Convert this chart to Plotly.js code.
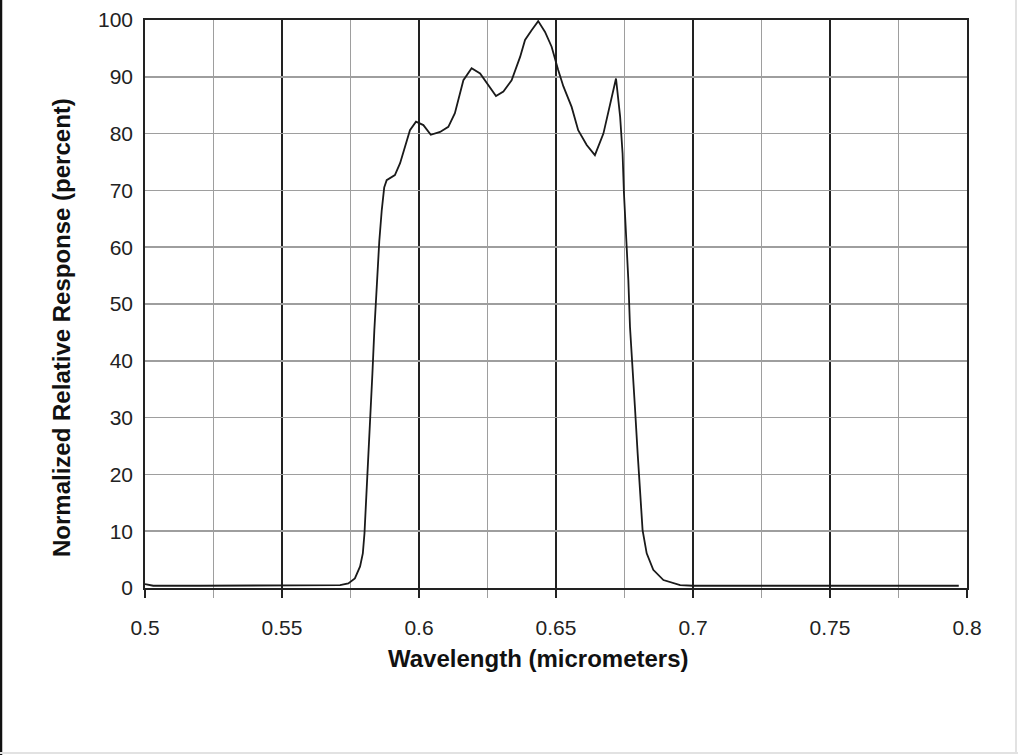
<!DOCTYPE html>
<html>
<head>
<meta charset="utf-8">
<script src="https://cdn.plot.ly/plotly-3.0.1.min.js"></script>
<style>
html,body{margin:0;padding:0;background:#fff;}
#chart{width:1018px;height:755px;}
</style>
</head>
<body>
<div id="chart"></div>
<script>
// Wavelength (micrometers)
var wavelength = [
  0.500, 0.503, 0.520, 0.540, 0.560, 0.5712, 0.5742, 0.5766, 0.5785, 0.5795,
  0.5801, 0.5807, 0.5816, 0.5824, 0.5830, 0.5837, 0.5846, 0.5855, 0.5864, 0.5873,
  0.5882, 0.5912, 0.5931, 0.5967, 0.5989, 0.6016, 0.6043, 0.6077, 0.6107, 0.6131,
  0.6162, 0.6192, 0.6223, 0.6253, 0.6281, 0.6308, 0.6338, 0.6369, 0.6387, 0.6411,
  0.6435, 0.6460, 0.6484, 0.6508, 0.6527, 0.6557, 0.6581, 0.6612, 0.6642, 0.6673,
  0.6697, 0.6719, 0.6734, 0.6743, 0.6748, 0.6758, 0.6764, 0.6770, 0.6780, 0.6788,
  0.6798, 0.6807, 0.6816, 0.6831, 0.6855, 0.6892, 0.6953, 0.700, 0.750, 0.797
];
// Normalized relative response (percent)
var response = [
  0.7, 0.4, 0.4, 0.4, 0.4, 0.5, 0.8, 1.7, 3.8, 6.1,
  9.6, 15.5, 22.0, 29.9, 37.8, 45.4, 53.3, 61.0, 66.5, 70.5,
  71.8, 72.7, 74.8, 80.6, 82.1, 81.5, 79.8, 80.3, 81.2, 83.6,
  89.4, 91.5, 90.6, 88.6, 86.6, 87.4, 89.4, 93.5, 96.5, 98.2,
  99.8, 97.9, 95.3, 91.2, 88.3, 84.7, 80.6, 78.0, 76.2, 80.0,
  85.3, 89.7, 83.0, 76.5, 69.5, 61.3, 54.2, 46.0, 39.0, 31.9,
  23.7, 16.7, 10.2, 6.1, 3.2, 1.4, 0.5, 0.4, 0.4, 0.4
];
var xTickVals = [0.5, 0.55, 0.6, 0.65, 0.7, 0.75, 0.8];
var xTickText = ["0.5", "0.55", "0.6", "0.65", "0.7", "0.75", "0.8"];
var yTickVals = [0, 10, 20, 30, 40, 50, 60, 70, 80, 90, 100];
var xTitle = "Wavelength (micrometers)";
var yTitle = "Normalized Relative Response (percent)";

var L = 145, R = 51, T = 20, B = 167, W = 1018, H = 755;
var pw = W - L - R, ph = H - T - B;
function px(xp){ return (xp - L) / pw; }
function py(yp){ return (H - B - yp) / ph; }

var trace = {
  x: wavelength, y: response, type: 'scatter', mode: 'lines',
  line: {color: '#1a1a1a', width: 1.8},
  hoverinfo: 'x+y'
};

var fontFam = '"Liberation Sans", Arial, sans-serif';
var layout = {
  width: W, height: H,
  margin: {l: L, r: R, t: T, b: B, pad: 0},
  paper_bgcolor: '#ffffff', plot_bgcolor: '#ffffff',
  showlegend: false,
  font: {family: fontFam, size: 21, color: '#222'},
  xaxis: {
    range: [0.5, 0.8], tickmode: 'array', tickvals: xTickVals, ticktext: xTickText,
    showgrid: true, gridcolor: '#222', gridwidth: 1.8,
    ticks: 'outside', ticklen: 8, tickwidth: 1.8, tickcolor: '#222',
    ticklabelstandoff: 12,
    minor: {dtick: 0.025, tick0: 0.5, showgrid: true, gridcolor: '#9e9e9e', gridwidth: 1.6,
            ticks: 'outside', ticklen: 8, tickwidth: 1.6, tickcolor: '#9e9e9e'},
    showline: true, linecolor: '#222', linewidth: 1.8, mirror: true,
    zeroline: false, fixedrange: true,
    tickfont: {family: fontFam, size: 21, color: '#222'}
  },
  yaxis: {
    range: [0, 100], tickmode: 'array', tickvals: yTickVals,
    showgrid: true, gridcolor: '#9e9e9e', gridwidth: 1.6,
    ticks: '', ticklabelstandoff: 6,
    showline: true, linecolor: '#222', linewidth: 1.8, mirror: true,
    zeroline: false, fixedrange: true,
    tickfont: {family: fontFam, size: 21, color: '#222'}
  },
  annotations: [
    {text: '<b>' + xTitle + '</b>', xref: 'paper', yref: 'paper',
     x: px(538), y: py(658), xanchor: 'center', yanchor: 'middle', showarrow: false,
     font: {family: fontFam, size: 24, color: '#111'}},
    {text: '<b>' + yTitle + '</b>', xref: 'paper', yref: 'paper', textangle: -90,
     x: px(62), y: py(328), xanchor: 'center', yanchor: 'middle', showarrow: false,
     font: {family: fontFam, size: 24, color: '#111'}}
  ],
  shapes: [
    {type: 'line', xref: 'paper', yref: 'paper', x0: px(1), x1: px(1), y0: py(0), y1: py(755),
     line: {color: '#111', width: 2.5}},
    {type: 'line', xref: 'paper', yref: 'paper', x0: px(1016), x1: px(1016), y0: py(0), y1: py(753),
     line: {color: '#e2e2e2', width: 2}},
    {type: 'line', xref: 'paper', yref: 'paper', x0: px(0), x1: px(1018), y0: py(753), y1: py(753),
     line: {color: '#e2e2e2', width: 2}}
  ]
};

Plotly.newPlot('chart', [trace], layout, {displayModeBar: false, staticPlot: true});
</script>
</body>
</html>
